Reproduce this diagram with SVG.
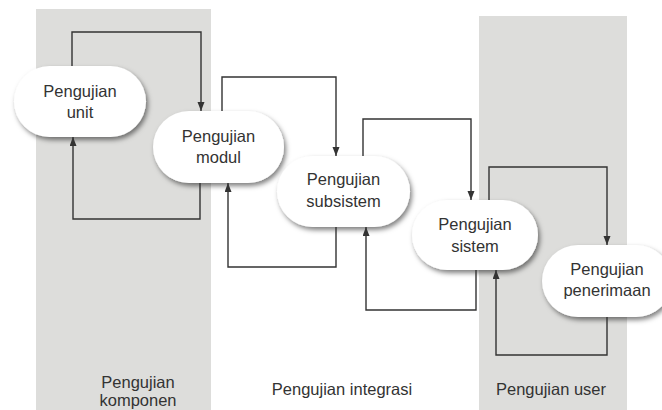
<svg xmlns="http://www.w3.org/2000/svg" width="662" height="410" viewBox="0 0 662 410">
  <defs>
    <style>
      .band { fill: #dddddb; }
      .node rect { fill: #ffffff; filter: url(#shadow); }
      .node text, .label { font-family: "Liberation Sans", Arial, sans-serif; font-size: 16.5px; fill: #333333; text-anchor: middle; }
      .conn path { fill: none; stroke: #333333; stroke-width: 1.4; marker-end: url(#arrow); }
    </style>
    <filter id="shadow" x="-20%" y="-30%" width="150%" height="170%">
      <feDropShadow dx="2" dy="3" stdDeviation="2.5" flood-color="#000000" flood-opacity="0.5"/>
    </filter>
    <marker id="arrow" markerUnits="userSpaceOnUse" markerWidth="10" markerHeight="8" refX="9" refY="3.5" orient="auto">
      <path d="M0,0 L9,3.5 L0,7 z" fill="#333333"/>
    </marker>
  </defs>

  <rect width="662" height="410" fill="#ffffff"/>

  <!-- phase bands -->
  <rect class="band" x="36" y="9" width="175" height="401"/>
  <rect class="band" x="479" y="16" width="148" height="394"/>

  <!-- nodes -->
  <g id="unit" class="node">
    <rect x="14" y="66" width="132" height="71" rx="35.5"/>
    <text x="80" y="97">Pengujian</text>
    <text x="80" y="118">unit</text>
  </g>
  <g id="modul" class="node">
    <rect x="153" y="111" width="131" height="72" rx="36"/>
    <text x="218.5" y="142">Pengujian</text>
    <text x="218.5" y="163">modul</text>
  </g>
  <g id="subsistem" class="node">
    <rect x="277" y="156" width="133" height="71" rx="35.5"/>
    <text x="343.5" y="185">Pengujian</text>
    <text x="343.5" y="207">subsistem</text>
  </g>
  <g id="sistem" class="node">
    <rect x="412" y="200" width="126" height="70" rx="35"/>
    <text x="475" y="230">Pengujian</text>
    <text x="475" y="252">sistem</text>
  </g>
  <g id="penerimaan" class="node">
    <rect x="542" y="245" width="130" height="72" rx="36"/>
    <text x="607" y="275">Pengujian</text>
    <text x="607" y="296">penerimaan</text>
  </g>

  <!-- connectors -->
  <g id="connectors" class="conn">
    <path d="M72,66 V32 H201 V111"/>
    <path d="M200,183 V219 H73 V137"/>
    <path d="M222,111 V77 H336 V156"/>
    <path d="M336,227 V267 H228 V183"/>
    <path d="M363,156 V119 H471 V200"/>
    <path d="M476,270 V310 H366 V227"/>
    <path d="M489,200 V167 H607 V245"/>
    <path d="M607,317 V355 H496 V270"/>
  </g>

  <!-- phase labels -->
  <text class="label" x="138" y="388">Pengujian</text>
  <text class="label" x="138" y="406">komponen</text>
  <text class="label" x="342" y="395">Pengujian integrasi</text>
  <text class="label" x="551" y="395">Pengujian user</text>
</svg>
